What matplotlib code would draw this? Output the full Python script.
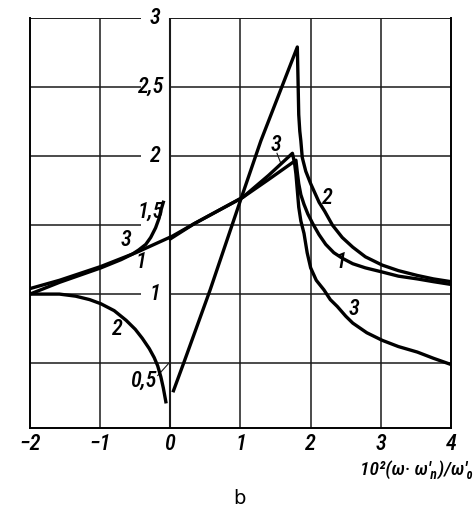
import matplotlib
matplotlib.use("Agg")
import matplotlib.pyplot as plt

# curve 1
c1_x = [-2.0, -1.58, -0.99, -0.49, 0.03, 0.34, 1.03, 1.40, 1.79, 1.81, 1.83, 1.86, 1.905, 1.96, 2.03,
        2.12, 2.215, 2.33, 2.45, 2.6, 2.78, 3.02, 3.25, 3.52, 3.75, 4.0]
c1_y = [1.04, 1.10, 1.20, 1.30, 1.42, 1.51, 1.70, 1.83, 1.97, 1.88, 1.80, 1.72, 1.65, 1.58, 1.51,
        1.43, 1.36, 1.30, 1.26, 1.22, 1.19, 1.16, 1.13, 1.11, 1.09, 1.07]

# curve 2, two branches either side of zero
c2l_x = [-2.0, -1.8, -1.58, -1.35, -1.15, -0.99, -0.8, -0.63, -0.5, -0.40, -0.3, -0.23, -0.18,
         -0.135, -0.10, -0.064]
c2l_y = [1.0, 1.0, 1.0, 0.985, 0.96, 0.93, 0.88, 0.81, 0.745, 0.68, 0.605, 0.54, 0.48,
         0.40, 0.32, 0.22]
c2r_x = [0.045, 0.197, 0.567, 1.0, 1.29, 1.81, 1.82, 1.83, 1.845, 1.86, 1.88, 1.93, 2.0, 2.12,
         2.2, 2.31, 2.45, 2.6, 2.78, 3.02, 3.25, 3.52, 3.75, 4.0]
c2r_y = [0.30, 0.51, 1.03, 1.68, 2.11, 2.79, 2.55, 2.30, 2.18, 2.11, 1.99, 1.89, 1.80, 1.665,
         1.60, 1.50, 1.41, 1.34, 1.27, 1.21, 1.17, 1.135, 1.11, 1.09]

# curve 3, two branches
c3l_x = [-2.0, -1.58, -0.99, -0.7, -0.54, -0.45, -0.35, -0.28, -0.21, -0.16, -0.135, -0.10]
c3l_y = [1.0, 1.085, 1.19, 1.25, 1.29, 1.32, 1.36, 1.41, 1.48, 1.55, 1.605, 1.665]
c3r_x = [0.0, 0.34, 1.03, 1.40, 1.74, 1.77, 1.79, 1.81, 1.83, 1.86, 1.905, 1.95, 2.0, 2.08, 2.19,
         2.28, 2.38, 2.5, 2.6, 2.8, 3.02, 3.25, 3.52, 3.75, 4.0]
c3r_y = [1.40, 1.51, 1.70, 1.86, 2.02, 1.95, 1.87, 1.75, 1.63, 1.53, 1.44, 1.30, 1.19, 1.10, 1.03,
         0.96, 0.91, 0.84, 0.79, 0.72, 0.665, 0.62, 0.58, 0.535, 0.49]

xticks = [-2, -1, 0, 1, 2, 3, 4]
xtick_labels = ["\u22122", "\u22121", "0", "1", "2", "3", "4"]
ylevels = [0.5, 1.0, 1.5, 2.0, 2.5, 3.0]
ylabels = ["0,5", "1", "1,5", "2", "2,5", "3"]

fam = ["Roboto Condensed", "Liberation Sans", "DejaVu Sans"]
fs = 16

fig = plt.figure(figsize=(4.75, 5.15), dpi=100)
ax = fig.add_axes([30/475, 1-428/515, 421/475, 410/515])
ax.set_xlim(-2, 4)
ax.set_ylim(0.03, 3.0)

for s in ["left", "right", "bottom"]:
    ax.spines[s].set_linewidth(1.4)
ax.spines["top"].set_visible(False)

gcol = "#1a1a1a"
for xv in [-1, 0, 1, 2, 3]:
    ax.axvline(xv, color=gcol, lw=1.1 if xv else 1.5, zorder=1)
# horizontal grid, broken where the y labels sit left of x=0
for yv in ylevels:
    if yv == 0.5:
        ax.hlines(yv, -2, 4, color=gcol, lw=1.1, zorder=1)
    else:
        w = 1.4 if yv == 3.0 else 1.1
        ax.hlines(yv, -2, -0.42, color=gcol, lw=w, zorder=1)
        ax.hlines(yv, 0, 4, color=gcol, lw=w, zorder=1)

lw = 2.4
for xs, ys in [(c1_x, c1_y), (c2l_x, c2l_y), (c2r_x, c2r_y), (c3l_x, c3l_y), (c3r_x, c3r_y)]:
    ax.plot(xs, ys, color="black", lw=lw, zorder=3, solid_joinstyle="round")

ax.set_xticks(xticks)
ax.set_xticklabels(xtick_labels, style="italic", family=fam, fontsize=fs, weight="medium")
ax.set_yticks([])
ax.tick_params(axis="x", length=0, pad=4)

# y values written inside the grid, next to the zero line
ypos = {"0,5": (-0.37, 0.37), "1,5": (-0.28, 1.59)}
for yv, lab in zip(ylevels, ylabels):
    px, py = ypos.get(lab, (-0.22 if len(lab) == 1 else -0.28, yv))
    ax.text(px, py, lab, ha="center", va="center", style="italic",
            family=fam, fontsize=fs, weight="medium", zorder=4)
ax.plot([-0.18, -0.02], [0.41, 0.50], color=gcol, lw=0.8)

# curve numbers
kw = dict(ha="center", va="center", style="italic", family=fam, fontsize=fs, weight="medium")
ax.text(-0.63, 1.39, "3", **kw)
ax.text(-0.42, 1.23, "1", **kw)
ax.text(-0.75, 0.74, "2", **kw)
ax.text(1.50, 2.075, "3", **kw)
ax.plot([1.52, 1.58], [2.02, 1.94], color=gcol, lw=0.8)
ax.text(2.24, 1.69, "2", **kw)
ax.text(2.43, 1.23, "1", **kw)
ax.text(2.62, 0.89, "3", **kw)

fig.text(0.998, 1-470/515, "10\u00b2(\u03c9\u00b7 \u03c9\u2032\u2099)/\u03c9\u2032\u2080",
         ha="right", va="center", fontsize=14, style="italic", family=fam, weight="medium")
fig.text(239/475, 1-498/515, "b", ha="center", va="center", fontsize=14)

fig.savefig("out.png", dpi=100)
